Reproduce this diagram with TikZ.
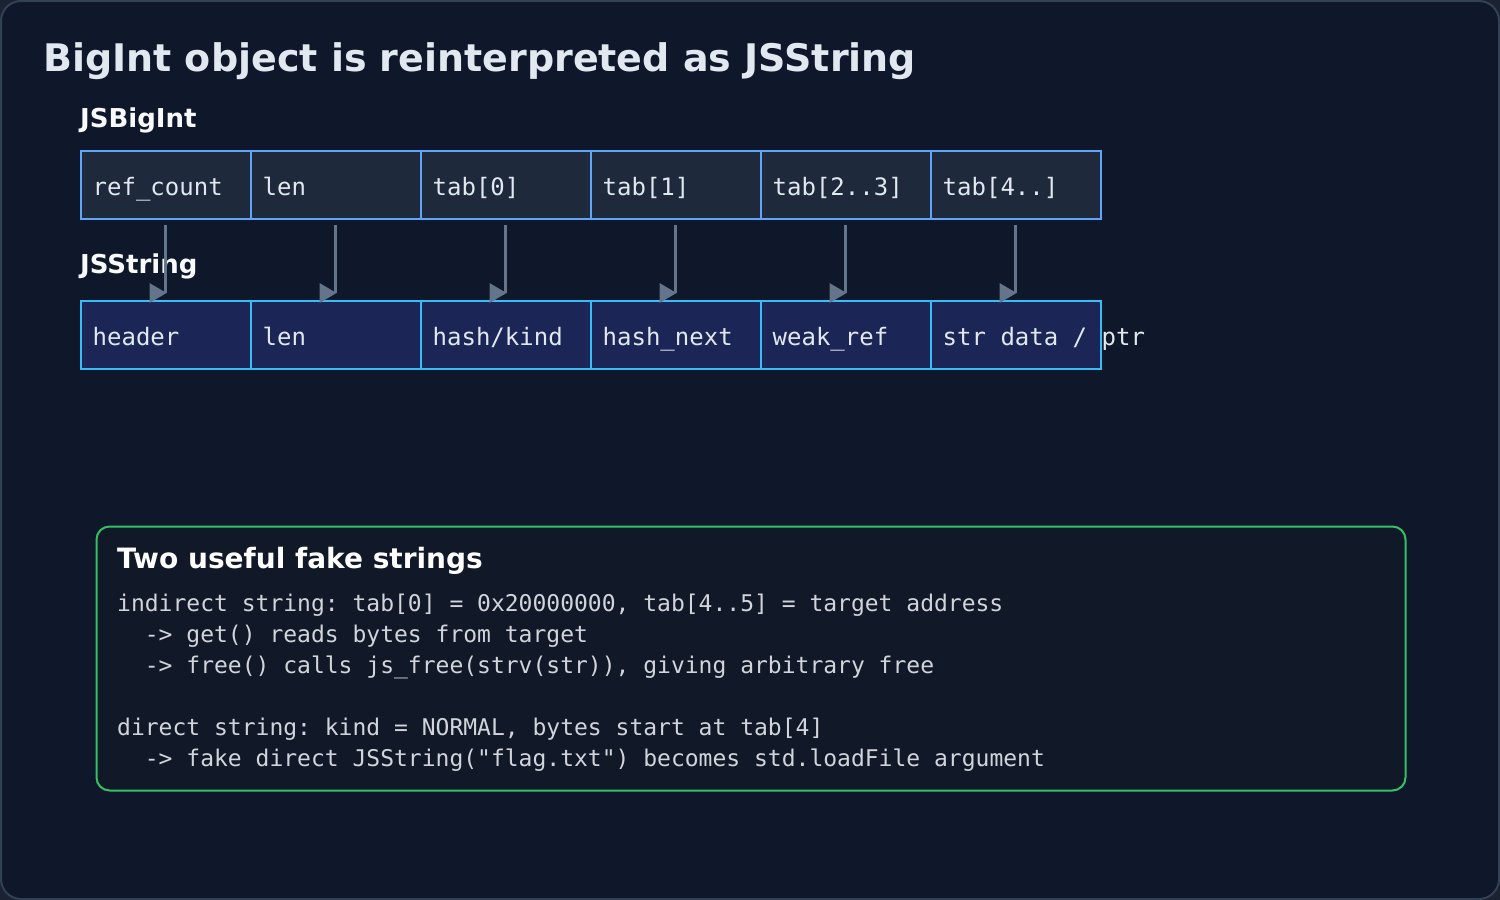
\documentclass[tikz,border=0pt]{standalone}
\usepackage{fontspec}
\setmainfont{DejaVu Sans}
\setsansfont{DejaVu Sans}
\setmonofont{DejaVu Sans Mono}
\usetikzlibrary{calc}
\definecolor{pagebg}{HTML}{0F172A}
\definecolor{outerbg}{HTML}{1B2332}
\definecolor{frame}{HTML}{334155}
\definecolor{titlecol}{HTML}{E2E8F0}
\definecolor{labelcol}{HTML}{F8FAFC}
\definecolor{topfill}{HTML}{1E293B}
\definecolor{topdraw}{HTML}{60A5FA}
\definecolor{botfill}{HTML}{1B2657}
\definecolor{botdraw}{HTML}{38BDF8}
\definecolor{arrowcol}{HTML}{64748B}
\definecolor{cardfill}{HTML}{111827}
\definecolor{carddraw}{HTML}{34C163}
\definecolor{bodycol}{HTML}{D1D5DB}
\tikzset{
  topbox/.style={draw=topdraw, fill=topfill, line width=2pt, minimum width=170pt, minimum height=68pt, inner sep=0pt, anchor=north west},
  botbox/.style={draw=botdraw, fill=botfill, line width=2pt, minimum width=170pt, minimum height=68pt, inner sep=0pt, anchor=north west},
  celltext/.style={anchor=base west, inner sep=0pt, text=titlecol, font=\ttfamily\fontsize{24pt}{28pt}\selectfont},
  conn/.style={draw=arrowcol, line width=3pt},
  tip/.style={fill=arrowcol},
  sectlabel/.style={anchor=base west, inner sep=0pt, text=labelcol, font=\bfseries\fontsize{26pt}{30pt}\selectfont},
  bodyline/.style={anchor=base west, inner sep=0pt, text=bodycol, font=\ttfamily\fontsize{23pt}{27pt}\selectfont},
}
\begin{document}
\begin{tikzpicture}[x=1pt,y=-1pt]
\useasboundingbox (0,0) rectangle (1500,900);
\fill[outerbg] (0,0) rectangle (1500,900);
\draw[frame, fill=pagebg, line width=2pt, rounded corners=20pt] (1,1) rectangle (1499,899);

\node[anchor=base west, inner sep=0pt, text=titlecol, font=\bfseries\fontsize{38pt}{44pt}\selectfont] (title) at (43,71) {BigInt object is reinterpreted as JSString};

\node[sectlabel] (lbig) at (80,127) {JSBigInt};
\node[sectlabel] (lstr) at (80,273) {JSString};

% top row
\foreach \i/\t in {0/{ref\_count},1/{len},2/{tab[0]},3/{tab[1]},4/{tab[2..3]},5/{tab[4..]}} {
  \node[topbox] (t\i) at (79.5+170*\i,150) {};
  \node[celltext] (tt\i) at ($(t\i.west)+(13pt,-10pt)$) {\t};
}
% bottom row
\foreach \i/\t in {0/{header},1/{len},2/{hash/kind},3/{hash\_next},4/{weak\_ref},5/{str data / ptr}} {
  \node[botbox] (b\i) at (79.5+170*\i,300) {};
  \node[celltext] (bt\i) at ($(b\i.west)+(13pt,-10pt)$) {\t};
}
% connectors
\foreach \i in {0,...,5} {
  \draw[conn] ([yshift=-5pt]t\i.south) -- ([yshift=7pt]b\i.north);
  \fill[tip] ([shift={(1pt,7pt)}]b\i.north) -- ++(-17pt,10pt) -- ++(0,-20pt) -- cycle;
}

% card
\node[draw=carddraw, fill=cardfill, line width=2pt, rounded corners=13pt, minimum width=1309pt, minimum height=264pt, anchor=north west, inner sep=0pt] (card) at (95.5,525.5) {};
\node[anchor=base west, inner sep=0pt, text=white, font=\bfseries\fontsize{28pt}{32pt}\selectfont] (ctitle) at (117,568) {Two useful fake strings};
\node[bodyline] (l1) at (117,611) {indirect string: tab[0] = 0x20000000, tab[4..5] = target address};
\node[bodyline] (l2) at (117,642) {\phantom{xx}-> get() reads bytes from target};
\node[bodyline] (l3) at (117,673) {\phantom{xx}-> free() calls js\_free(strv(str)), giving arbitrary free};
\node[bodyline] (l4) at (117,735) {direct string: kind = NORMAL, bytes start at tab[4]};
\node[bodyline] (l5) at (117,766) {\phantom{xx}-> fake direct JSString("flag.txt") becomes std.loadFile argument};
\end{tikzpicture}
\end{document}
